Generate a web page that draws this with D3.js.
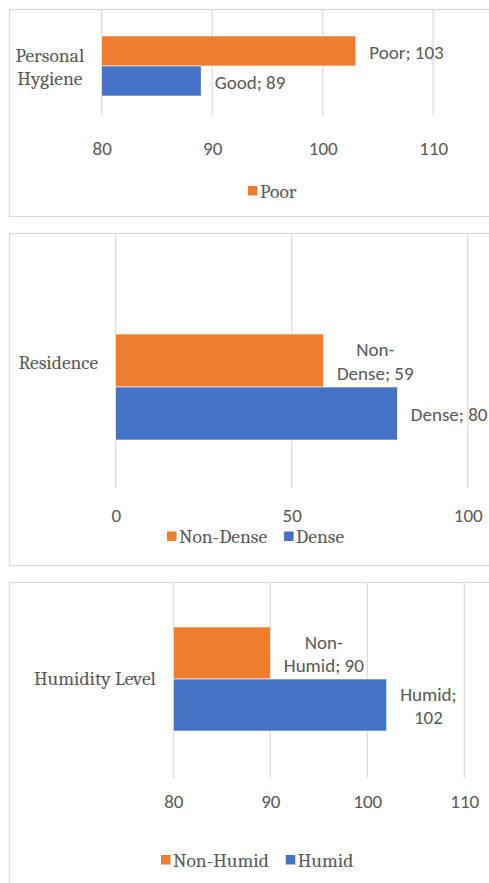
<!DOCTYPE html>
<html><head><meta charset="utf-8">
<script src="https://cdn.jsdelivr.net/npm/d3@7"></script>
<style>body{margin:0;background:#fff} svg{display:block}</style>
</head><body><svg id="chart" width="489" height="883"></svg>
<script>
// Three single-category bar charts: orange series on top, blue below.
const categories   = ["Personal Hygiene", "Residence", "Humidity Level"];
const upperSeries  = ["Poor", "Non-Dense", "Non-Humid"];
const upperValues  = [103, 59, 90];
const lowerSeries  = ["Good", "Dense", "Humid"];
const lowerValues  = [89, 80, 102];
const tickValues   = [[80, 90, 100, 110], [0, 50, 100], [80, 90, 100, 110]];
const axisDomains  = [[80, 120], [0, 120], [80, 120]];
const legendItems  = [["Poor"], ["Non-Dense", "Dense"], ["Non-Humid", "Humid"]];

const COLOR = {upper: "#ED7D31", lower: "#4472C4"};
const TEXT = "#595959", GRID = "#d9d9d9";
const SANS = '"Carlito", "Lato", sans-serif';
const SERIF = '"Caladea", "Liberation Serif", serif';
const SANS_SIZE = 19, SERIF_SIZE = 19.5;
const LABEL_MAX_CHARS = 9;

// Layout for each panel (pixels).
const layout = [
  {frame: [9, 9, 216],   grid: [10, 115],  x0: 101.7, unitPx: 11.05, bars: [36, 96],   tickY: 148, catY: 66.5, legendX: 248, legendY: 191},
  {frame: [9, 233, 565], grid: [235, 488], x0: 115.7, unitPx: 3.52,  bars: [334, 440], tickY: 515, catY: 362,  legendX: 167, legendY: 536.5},
  {frame: [9, 582, 900], grid: [583, 778], x0: 173.3, unitPx: 9.7,   bars: [627, 731], tickY: 801, catY: 678,  legendX: 161, legendY: 860}
];

const svg = d3.select("#chart");

function wrapByChars(text, max) {
  const tokens = text.split(/(?<=-)|(?= )/);
  const lines = [];
  let line = "";
  tokens.forEach(t => {
    if (line && (line + t).length > max) { lines.push(line.trim()); line = t.trimStart(); }
    else line += t;
  });
  if (line) lines.push(line.trim());
  return lines;
}

function wrapByWidth(g, text, maxW, font, size) {
  const probe = g.append("text").style("font-family", font).style("font-size", size + "px");
  const words = text.split(" ");
  const lines = [];
  let line = "";
  words.forEach(w => {
    const test = line ? line + " " + w : w;
    probe.text(test);
    if (line && probe.node().getComputedTextLength() > maxW) { lines.push(line); line = w; }
    else line = test;
  });
  if (line) lines.push(line);
  probe.remove();
  return lines;
}

// Draws a block of centred lines; anchorX is the block's left (or right) edge.
function textBlock(g, lines, anchorX, cy, align, font, size, lineH) {
  const t = g.append("text").style("font-family", font).style("font-size", size + "px").attr("fill", TEXT);
  const spans = lines.map((l, i) => t.append("tspan").text(l)
    .attr("y", cy + (i - (lines.length - 1) / 2) * lineH).attr("dy", "0.35em"));
  const widths = spans.map(s => s.node().getComputedTextLength());
  const blockW = d3.max(widths);
  const cx = align === "left" ? anchorX + blockW / 2 : anchorX - blockW / 2;
  spans.forEach(s => s.attr("x", cx).attr("text-anchor", "middle"));
  return t;
}

layout.forEach((L, i) => {
  const g = svg.append("g");
  const [fx, fy0, fy1] = L.frame;
  g.append("rect").attr("x", fx + 0.5).attr("y", fy0 + 0.5)
    .attr("width", 700).attr("height", fy1 - fy0)
    .attr("fill", "#fff").attr("stroke", GRID).attr("stroke-width", 1.2);

  const dom = axisDomains[i];
  const x = d3.scaleLinear().domain(dom).range([L.x0, L.x0 + L.unitPx * (dom[1] - dom[0])]);
  const y = d3.scaleBand().domain(["upper", "lower"]).range(L.bars).padding(0);

  // Vertical gridlines
  g.selectAll(".grid").data(tickValues[i]).join("line")
    .attr("x1", d => x(d)).attr("x2", d => x(d))
    .attr("y1", L.grid[0]).attr("y2", L.grid[1])
    .attr("stroke", GRID).attr("stroke-width", 1.2);

  // Tick labels via d3 axis
  const axis = d3.axisBottom(x).tickValues(tickValues[i]).tickSize(0).tickPadding(0);
  const ag = g.append("g").attr("transform", `translate(0,${L.tickY})`).call(axis);
  ag.select(".domain").remove();
  ag.attr("font-family", null).attr("font-size", null);
  ag.selectAll("text").style("font-family", SANS).style("font-size", SANS_SIZE + "px")
    .attr("fill", TEXT).attr("dy", "0.35em").attr("y", 0);

  const bars = [
    {key: "upper", name: upperSeries[i], value: upperValues[i]},
    {key: "lower", name: lowerSeries[i], value: lowerValues[i]}
  ];
  g.selectAll(".bar").data(bars).join("rect")
    .attr("x", x(dom[0])).attr("y", d => y(d.key))
    .attr("width", d => x(d.value) - x(dom[0])).attr("height", y.bandwidth())
    .attr("fill", d => COLOR[d.key]).attr("stroke", "#fff").attr("stroke-width", 0.6);

  // Data labels at the outside end
  bars.forEach(d => {
    const lines = wrapByChars(`${d.name}; ${d.value}`, LABEL_MAX_CHARS);
    textBlock(g, lines, x(d.value) + 13.5, y(d.key) + y.bandwidth() / 2 + 1, "left", SANS, SANS_SIZE, 23.5);
  });

  // Category label
  const catLines = wrapByWidth(g, categories[i], L.x0 - 29, SERIF, SERIF_SIZE);
  textBlock(g, catLines, L.x0 - 17.5, L.catY, "right", SERIF, SERIF_SIZE, 23);

  // Legend
  let lx = L.legendX;
  legendItems[i].forEach(name => {
    const key = upperSeries[i] === name ? "upper" : "lower";
    g.append("rect").attr("x", lx).attr("y", L.legendY - 5).attr("width", 9.5).attr("height", 9.5)
      .attr("fill", COLOR[key]);
    const t = g.append("text").attr("x", lx + 12).attr("y", L.legendY).attr("dy", "0.35em")
      .style("font-family", SERIF).style("font-size", SERIF_SIZE + "px").attr("fill", TEXT).text(name);
    lx += 12 + t.node().getComputedTextLength() + 17;
  });
});
</script>
</body></html>
